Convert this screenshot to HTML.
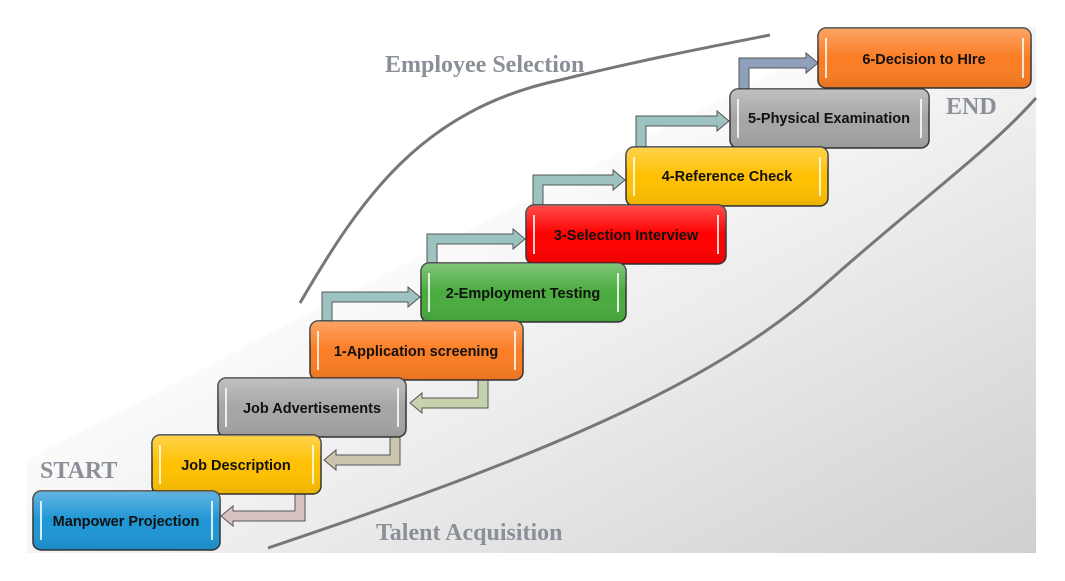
<!DOCTYPE html>
<html><head><meta charset="utf-8"><style>
html,body{margin:0;padding:0;background:#fff;width:1065px;height:581px;overflow:hidden}
svg{display:block}
.b{font-family:"Liberation Sans",sans-serif;font-weight:bold;font-size:14.5px;fill:#111;text-anchor:middle}
.s{font-family:"Liberation Serif",serif;font-weight:bold;font-size:24px;fill:#8a8f98}
</style></head><body>
<svg width="1065" height="581" viewBox="0 0 1065 581">
<defs>
<linearGradient id="bg" x1="0" y1="0" x2="1" y2="1">
<stop offset="0.35" stop-color="#ffffff"/><stop offset="1" stop-color="#cfcfcf"/>
</linearGradient>
<linearGradient id="gl" x1="0" y1="0" x2="0" y2="1">
<stop offset="0" stop-color="#fff" stop-opacity="0.3"/><stop offset="0.5" stop-color="#fff" stop-opacity="0"/><stop offset="1" stop-color="#000" stop-opacity="0.08"/>
</linearGradient>
</defs>
<polygon points="27,460 860,27 1036,27 1036,553 27,553" fill="url(#bg)"/>
<path d="M300,303 C360,200 420,110 560,80 C650,58 720,45 770,35" fill="none" stroke="#777" stroke-width="3"/>
<path d="M268,548 C560,450 720,380 830,280 C920,200 990,150 1036,98" fill="none" stroke="#777" stroke-width="3"/>
<text class="s" x="385" y="72">Employee Selection</text>
<text class="s" x="40" y="478">START</text>
<text class="s" x="946" y="114">END</text>
<text class="s" x="376" y="540">Talent Acquisition</text>
<g stroke="#555" stroke-width="1">
<polygon fill="#9cc3bf" points="322,321 322,292 408,292 408,287 420,297 408,307 408,302 332,302 332,321"/>
<polygon fill="#9cc3bf" points="427,263 427,234 513,234 513,229 525,239 513,249 513,244 437,244 437,263"/>
<polygon fill="#9cc3bf" points="533,205 533,175 613,175 613,170 625,180 613,190 613,185 543,185 543,205"/>
<polygon fill="#9cc3bf" points="636,147 636,116 717,116 717,111 729,121 717,131 717,126 646,126 646,147"/>
<polygon fill="#8fa0bd" points="739,89 739,58 806,58 806,53 818,63 806,73 806,68 749,68 749,89"/>
<polygon fill="#c6d2ae" points="488,380 488,408 422,408 422,413 410,403 422,393 422,398 478,398 478,380"/>
<polygon fill="#ccc5ae" points="400,437 400,465 336,465 336,470 324,460 336,450 336,455 390,455 390,437"/>
<polygon fill="#d8c2c0" points="305,494 305,521 233,521 233,526 221,516 233,506 233,511 295,511 295,494"/>
</g>
<g stroke="#333" stroke-width="1.5">
<rect x="818" y="28" width="213" height="60" rx="8" fill="#fb7d24"/>
<rect x="730" y="89" width="199" height="59" rx="8" fill="#a6a6a6"/>
<rect x="626" y="147" width="202" height="59" rx="8" fill="#ffc000"/>
<rect x="526" y="205" width="200" height="59" rx="8" fill="#ff0000"/>
<rect x="421" y="263" width="205" height="59" rx="8" fill="#4aac3f"/>
<rect x="310" y="321" width="213" height="59" rx="8" fill="#fb7d24"/>
<rect x="218" y="378" width="188" height="59" rx="8" fill="#a6a6a6"/>
<rect x="152" y="435" width="169" height="59" rx="8" fill="#ffc000"/>
<rect x="33" y="491" width="187" height="59" rx="8" fill="#1e96d4"/>
</g>
<g fill="url(#gl)">
<rect x="818" y="28" width="213" height="60" rx="8"/>
<rect x="730" y="89" width="199" height="59" rx="8"/>
<rect x="626" y="147" width="202" height="59" rx="8"/>
<rect x="526" y="205" width="200" height="59" rx="8"/>
<rect x="421" y="263" width="205" height="59" rx="8"/>
<rect x="310" y="321" width="213" height="59" rx="8"/>
<rect x="218" y="378" width="188" height="59" rx="8"/>
<rect x="152" y="435" width="169" height="59" rx="8"/>
<rect x="33" y="491" width="187" height="59" rx="8"/>
</g>
<g stroke="#fff" stroke-opacity="0.8" stroke-width="2">
<line x1="826" y1="38" x2="826" y2="78"/><line x1="1023" y1="38" x2="1023" y2="78"/>
<line x1="738" y1="99" x2="738" y2="138"/><line x1="921" y1="99" x2="921" y2="138"/>
<line x1="634" y1="157" x2="634" y2="196"/><line x1="820" y1="157" x2="820" y2="196"/>
<line x1="534" y1="215" x2="534" y2="254"/><line x1="718" y1="215" x2="718" y2="254"/>
<line x1="429" y1="273" x2="429" y2="312"/><line x1="618" y1="273" x2="618" y2="312"/>
<line x1="318" y1="331" x2="318" y2="370"/><line x1="515" y1="331" x2="515" y2="370"/>
<line x1="226" y1="388" x2="226" y2="427"/><line x1="398" y1="388" x2="398" y2="427"/>
<line x1="160" y1="445" x2="160" y2="484"/><line x1="313" y1="445" x2="313" y2="484"/>
<line x1="41" y1="501" x2="41" y2="540"/><line x1="212" y1="501" x2="212" y2="540"/>
</g>
<text class="b" x="924" y="64">6-Decision to HIre</text>
<text class="b" x="829" y="123">5-Physical Examination</text>
<text class="b" x="727" y="181">4-Reference Check</text>
<text class="b" x="626" y="240">3-Selection Interview</text>
<text class="b" x="523" y="298">2-Employment Testing</text>
<text class="b" x="416" y="356">1-Application screening</text>
<text class="b" x="312" y="413">Job Advertisements</text>
<text class="b" x="236" y="470">Job Description</text>
<text class="b" x="126" y="526">Manpower Projection</text>
</svg>
</body></html>
